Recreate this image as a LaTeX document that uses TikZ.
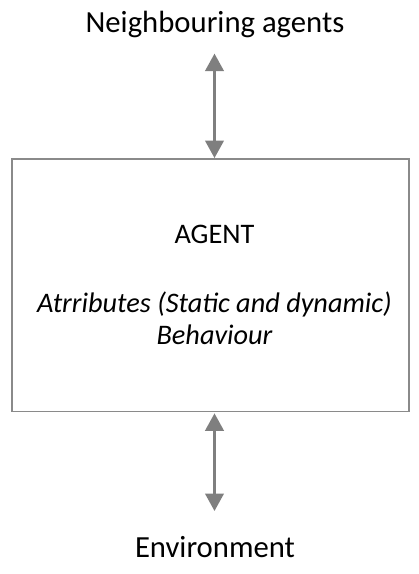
\documentclass[tikz,border=0pt]{standalone}
\usepackage{fontspec}
\setmainfont{Carlito}
\usetikzlibrary{arrows.meta}
\definecolor{linkgray}{HTML}{7F7F7F}
\definecolor{boxgray}{HTML}{8A8A8A}
\begin{document}
\begin{tikzpicture}[x=1pt,y=1pt,
	outer/.style={font=\fontsize{30.7}{37}\selectfont, anchor=base},
	inner/.style={font=\fontsize{28.3}{34}\selectfont, anchor=base},
	agentbox/.style={draw=boxgray, line width=1.8pt, minimum width=397pt, minimum height=252.5pt, inner sep=0pt},
	link/.style={draw=linkgray, line width=2.6pt, {Triangle[width=18.5pt,length=17.5pt]}-{Triangle[width=18.5pt,length=17.5pt]}}]
	\useasboundingbox (0, 0) rectangle (419, -574);
	\node[outer] (nbr) at (215, -32.2) {Neighbouring agents};
	\node[agentbox] (agent) at (210.2, -285.2) {};
	\node[inner] (title) at (214.5, -243.8) {AGENT};
	\node[inner] (attr) at (214.5, -312) {\itshape Atrributes (Static and dynamic)};
	\node[inner] (behav) at (214.5, -344) {\itshape Behaviour};
	\node[outer] (env) at (215, -557.7) {Environment};
	\coordinate (ntip) at (214.5, -53.6);
	\coordinate (etip) at (214.5, -511);
	\draw[link] (ntip) -- (agent.north -| ntip);
	\draw[link] ([yshift=-1pt]agent.south -| etip) -- (etip);
\end{tikzpicture}
\end{document}
